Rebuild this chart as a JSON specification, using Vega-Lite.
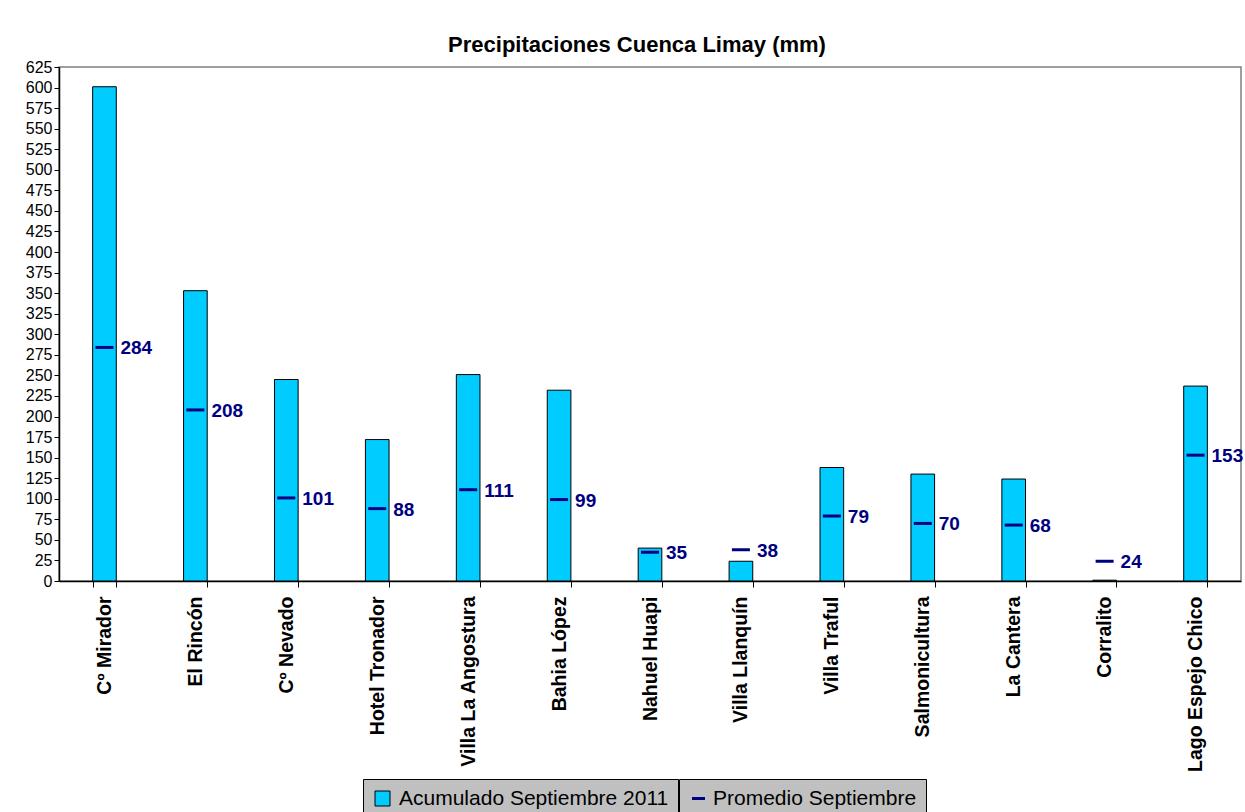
{
  "$schema": "https://vega.github.io/schema/vega-lite/v6.json",
  "width": 1182,
  "height": 514,
  "autosize": {"type": "none"},
  "padding": {"left": 59, "top": 67, "right": 4, "bottom": 231},
  "background": "white",
  "title": {
    "text": "Precipitaciones Cuenca Limay (mm)",
    "font": "Liberation Sans",
    "fontSize": 22,
    "fontWeight": "bold",
    "color": "black",
    "anchor": "middle",
    "offset": 2,
    "dx": -13
  },
  "config": {
    "view": {"stroke": "#808080", "strokeWidth": 1.5},
    "axis": {"labelFont": "Liberation Sans", "grid": false, "domainColor": "black", "tickColor": "black", "labelColor": "black"},
    "axisY": {"labelFontSize": 16, "tickSize": 5, "labelPadding": 2, "domainWidth": 1.5, "labelOverlap": false},
    "legend": {
      "orient": "none",
      "direction": "horizontal",
      "labelFont": "Liberation Sans",
      "labelFontSize": 21,
      "labelColor": "black",
      "labelLimit": 700,
      "symbolOffset": 0,
      "fillColor": "#C0C0C0",
      "strokeColor": "black",
      "padding": 9
    }
  },
  "data": {
    "values": [
      {"estacion": "Cº Mirador", "acumulado": 601, "promedio": 284},
      {"estacion": "El Rincón", "acumulado": 353, "promedio": 208},
      {"estacion": "Cº Nevado", "acumulado": 245, "promedio": 101},
      {"estacion": "Hotel Tronador", "acumulado": 172, "promedio": 88},
      {"estacion": "Villa La Angostura", "acumulado": 251, "promedio": 111},
      {"estacion": "Bahia López", "acumulado": 232, "promedio": 99},
      {"estacion": "Nahuel Huapi", "acumulado": 40, "promedio": 35},
      {"estacion": "Villa Llanquín", "acumulado": 24, "promedio": 38},
      {"estacion": "Villa Traful", "acumulado": 138, "promedio": 79},
      {"estacion": "Salmonicultura", "acumulado": 130, "promedio": 70},
      {"estacion": "La Cantera", "acumulado": 124, "promedio": 68},
      {"estacion": "Corralito", "acumulado": 1, "promedio": 24},
      {"estacion": "Lago Espejo Chico", "acumulado": 237, "promedio": 153}
    ]
  },
  "encoding": {
    "x": {
      "field": "estacion",
      "type": "nominal",
      "sort": null,
      "title": null,
      "scale": {"paddingInner": 0.74, "paddingOuter": 0.37},
      "axis": {
        "labelAngle": 270,
        "labelAlign": "right",
        "labelBaseline": "middle",
        "labelFontSize": 19.5,
        "labelFontWeight": "bold",
        "labelPadding": 9,
        "tickBand": "extent",
        "tickSize": 6,
        "domainWidth": 1.5,
        "labelLimit": 300
      }
    }
  },
  "layer": [
    {
      "mark": {"type": "bar", "stroke": "black", "strokeWidth": 1},
      "encoding": {
        "y": {
          "field": "acumulado",
          "type": "quantitative",
          "title": null,
          "scale": {"domain": [0, 625], "nice": false},
          "axis": {"values": [0,25,50,75,100,125,150,175,200,225,250,275,300,325,350,375,400,425,450,475,500,525,550,575,600,625], "labelOverlap": false}
        },
        "fill": {
          "datum": "Acumulado Septiembre 2011",
          "type": "nominal",
          "scale": {"domain": ["Acumulado Septiembre 2011"], "range": ["#00CCFF"]},
          "legend": {
            "title": null,
            "legendX": 304,
            "legendY": 712,
            "symbolType": "square",
            "symbolSize": 225,
            "symbolStrokeColor": "black",
            "symbolStrokeWidth": 1,
            "labelOffset": 6
          }
        }
      }
    },
    {
      "mark": {"type": "point", "shape": "stroke", "size": 324, "strokeWidth": 3, "color": "#000080", "filled": false, "opacity": 1},
      "encoding": {
        "y": {
          "field": "promedio",
          "type": "quantitative",
          "title": null,
          "axis": {"values": [0,25,50,75,100,125,150,175,200,225,250,275,300,325,350,375,400,425,450,475,500,525,550,575,600,625], "labelOverlap": false}
        },
        "shape": {
          "datum": "Promedio Septiembre",
          "type": "nominal",
          "scale": {"domain": ["Promedio Septiembre"], "range": ["stroke"]},
          "legend": {
            "title": null,
            "legendX": 620,
            "legendY": 712,
            "symbolSize": 169,
            "symbolStrokeColor": "#000080",
            "symbolStrokeWidth": 3,
            "labelOffset": 4
          }
        }
      }
    },
    {
      "mark": {"type": "text", "align": "left", "baseline": "middle", "dx": 16, "dy": 1, "font": "Liberation Sans", "fontSize": 19, "fontWeight": "bold", "color": "#000080"},
      "encoding": {
        "y": {
          "field": "promedio",
          "type": "quantitative",
          "title": null,
          "axis": {"values": [0,25,50,75,100,125,150,175,200,225,250,275,300,325,350,375,400,425,450,475,500,525,550,575,600,625], "labelOverlap": false}
        },
        "text": {"field": "promedio", "type": "quantitative"}
      }
    }
  ]
}
